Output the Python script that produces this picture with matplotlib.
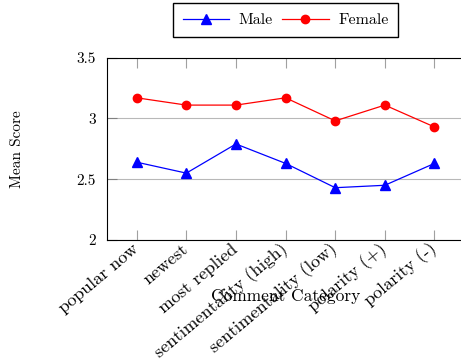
import matplotlib
matplotlib.use("Agg")
import matplotlib.pyplot as plt
import matplotlib.transforms as mtransforms
import numpy as np

plt.rcParams.update({"font.family": "cmr10", "font.size": 11,
                     "axes.formatter.use_mathtext": True})

categories = ["popular now", "newest", "most replied", "sentimentality (high)",
              "sentimentality (low)", "polarity (+)", "polarity (-)"]
male = [2.64, 2.55, 2.79, 2.63, 2.43, 2.45, 2.63]
female = [3.17, 3.11, 3.11, 3.17, 2.98, 3.11, 2.93]
yticks = [2, 2.5, 3, 3.5]
ytick_labels = ["2", "2.5", "3", "3.5"]

fig = plt.figure(figsize=(4.61, 3.63), dpi=100)
ax = fig.add_axes([0.232, 0.339, 0.775, 0.502])
x = np.arange(len(categories))

ax.plot(x, male, color="blue", lw=0.9, marker="^", ms=6.5, label="Male")
ax.plot(x, female, color="red", lw=0.9, marker="o", ms=6, label="Female")

ax.set_xlim(-0.6, len(categories) - 1 + 0.6)
ax.set_ylim(2, 3.5)
ax.set_yticks(yticks)
ax.set_yticklabels(ytick_labels)
ax.set_xticks(x)
ax.set_xticklabels(categories, rotation=40, ha="right", va="center",
                   rotation_mode="anchor", fontsize=13)
# nudge the rotated labels a little to the left of their ticks
shift = mtransforms.ScaledTranslation(-0.04, 0, fig.dpi_scale_trans)
for lbl in ax.get_xticklabels():
    lbl.set_transform(lbl.get_transform() + shift)
ax.tick_params(axis="x", direction="in", length=7.5, color="#a0a0a0",
               top=True, width=0.8, pad=5)
ax.tick_params(axis="y", direction="in", length=7.5, color="#808080",
               width=0.8, pad=8)
ax.grid(True, axis="y", color="#b8b8b8", lw=0.8)
ax.set_axisbelow(True)
for s in ax.spines.values():
    s.set_linewidth(0.8)

ax.set_ylabel("Mean Score", labelpad=38)
ax.set_xlabel("Comment Category", fontsize=12.5)
ax.xaxis.set_label_coords(0.5, -0.27)

ax.legend(loc="lower center", bbox_to_anchor=(0.5, 1.115), ncol=2,
          frameon=True, fancybox=False, edgecolor="black", framealpha=1,
          handlelength=2.9, columnspacing=0.6, handletextpad=0.6,
          borderpad=0.6, borderaxespad=0, fontsize=11.5)

fig.savefig("out.png", dpi=100)
